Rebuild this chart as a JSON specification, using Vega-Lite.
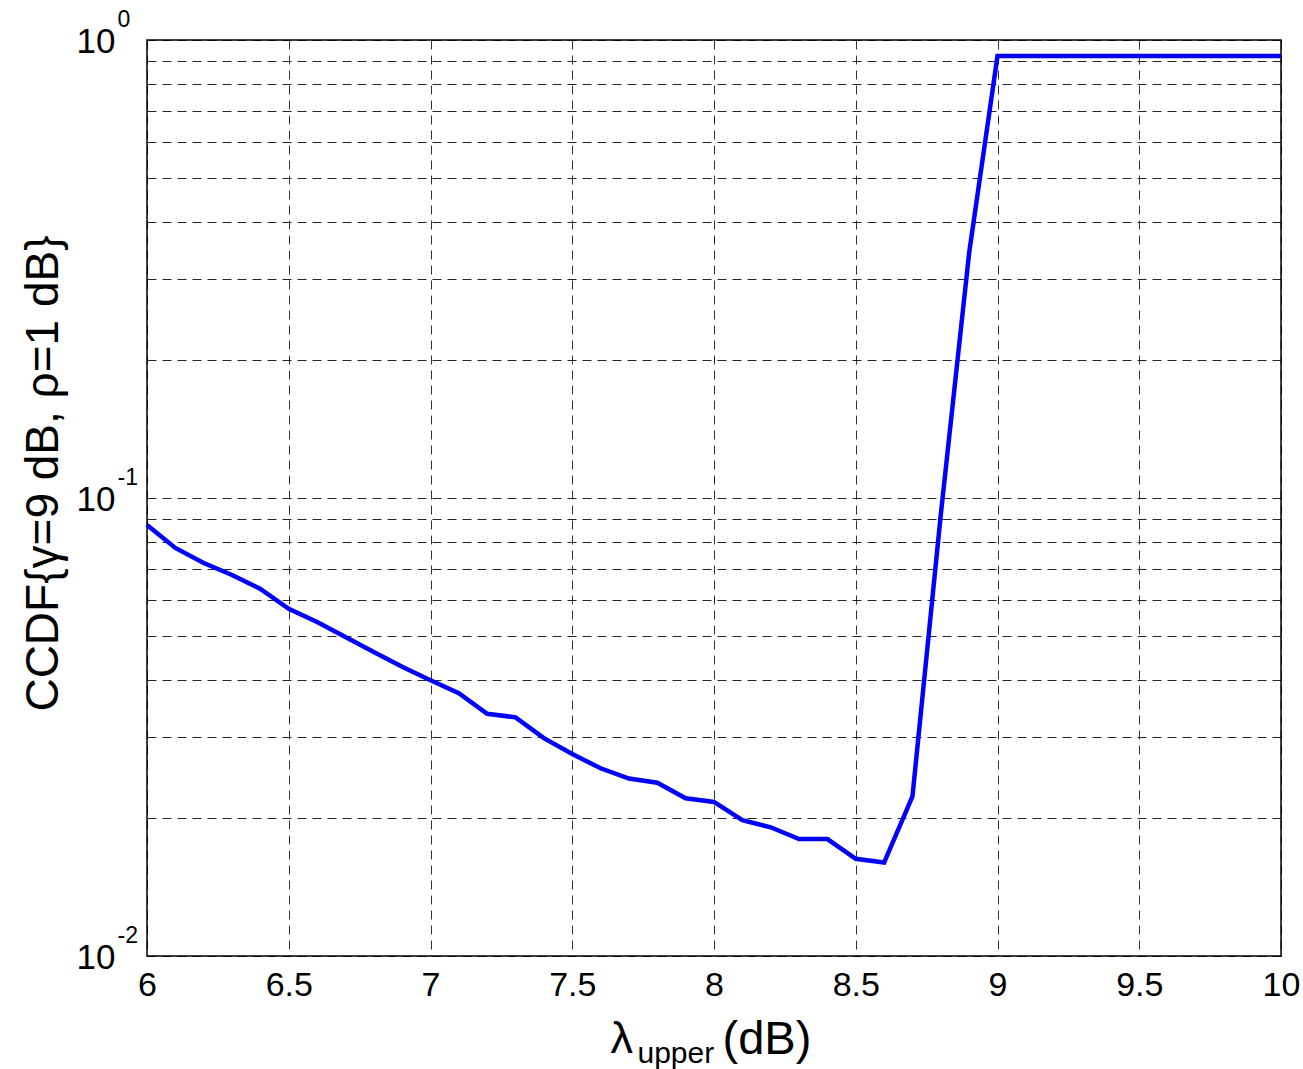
{
  "$schema": "https://vega.github.io/schema/vega-lite/v6.json",
  "width": 1134,
  "height": 916,
  "autosize": {"type": "none"},
  "padding": {"left": 147, "top": 40, "right": 22, "bottom": 113},
  "background": "white",
  "config": {
    "view": {"stroke": "#000", "strokeWidth": 1.5},
    "axis": {
      "labelFont": "Liberation Sans",
      "titleFont": "Liberation Sans",
      "labelColor": "#000",
      "titleColor": "#000",
      "titleFontWeight": "normal",
      "domain": false,
      "ticks": false,
      "tickSize": 0
    }
  },
  "data": {
    "values": [
      {"x": 6.0, "y": 0.0873},
      {"x": 6.1, "y": 0.0778},
      {"x": 6.2, "y": 0.0721},
      {"x": 6.3, "y": 0.0679},
      {"x": 6.4, "y": 0.0633},
      {"x": 6.5, "y": 0.0573},
      {"x": 6.6, "y": 0.0536},
      {"x": 6.7, "y": 0.0497},
      {"x": 6.8, "y": 0.0461},
      {"x": 6.9, "y": 0.0428},
      {"x": 7.0, "y": 0.0400},
      {"x": 7.1, "y": 0.0375},
      {"x": 7.2, "y": 0.0338},
      {"x": 7.3, "y": 0.0332},
      {"x": 7.4, "y": 0.0299},
      {"x": 7.5, "y": 0.0276},
      {"x": 7.6, "y": 0.0257},
      {"x": 7.7, "y": 0.0244},
      {"x": 7.8, "y": 0.0239},
      {"x": 7.9, "y": 0.0221},
      {"x": 8.0, "y": 0.0217},
      {"x": 8.1, "y": 0.0198},
      {"x": 8.2, "y": 0.0191},
      {"x": 8.3, "y": 0.0180},
      {"x": 8.4, "y": 0.0180},
      {"x": 8.5, "y": 0.0163},
      {"x": 8.6, "y": 0.0160},
      {"x": 8.7, "y": 0.0223},
      {"x": 8.8, "y": 0.092},
      {"x": 8.9, "y": 0.343},
      {"x": 9.0, "y": 0.923},
      {"x": 9.1, "y": 0.923},
      {"x": 9.2, "y": 0.923},
      {"x": 9.3, "y": 0.923},
      {"x": 9.4, "y": 0.923},
      {"x": 9.5, "y": 0.923},
      {"x": 9.6, "y": 0.923},
      {"x": 9.7, "y": 0.923},
      {"x": 9.8, "y": 0.923},
      {"x": 9.9, "y": 0.923},
      {"x": 10.0, "y": 0.923}
    ]
  },
  "layer": [
    {
      "mark": {"type": "line", "color": "#0000ff", "strokeWidth": 4.5},
      "encoding": {
        "x": {
          "field": "x", "type": "quantitative",
          "scale": {"domain": [6, 10], "nice": false, "zero": false},
          "axis": {
            "orient": "bottom",
            "values": [6, 6.5, 7, 7.5, 8, 8.5, 9, 9.5, 10],
            "format": "~g",
            "labelFontSize": 34,
            "labelBaseline": "alphabetic",
            "labelPadding": 39,
            "labelFlush": false,
            "labelOverlap": false,
            "grid": true,
            "gridColor": "#000",
            "gridOpacity": 0.8,
            "gridDash": [9, 6],
            "gridWidth": 1,
            "title": "λ",
            "titleFontSize": 45,
            "titleX": 463,
            "titleY": 96,
            "titleAlign": "left",
            "titleBaseline": "alphabetic"
          }
        },
        "y": {
          "field": "y", "type": "quantitative",
          "scale": {"type": "log", "domain": [0.01, 1], "nice": false},
          "axis": {
            "orient": "left",
            "values": [0.01, 0.02, 0.03, 0.04, 0.05, 0.06, 0.07, 0.08, 0.09, 0.1, 0.2, 0.3, 0.4, 0.5, 0.6, 0.7, 0.8, 0.9, 1],
            "labelExpr": "(datum.value == 0.01 || datum.value == 0.1 || datum.value == 1) ? '10' : ''",
            "labelFontSize": 35,
            "labelAlign": "right",
            "labelBaseline": "alphabetic",
            "labelOffset": 12,
            "labelPadding": 32,
            "labelOverlap": false,
            "labelFlush": false,
            "grid": true,
            "gridColor": "#000",
            "gridOpacity": 0.85,
            "gridDash": [9, 6],
            "gridWidth": 1,
            "title": "CCDF{γ=9 dB, ρ=1 dB}",
            "titleFontSize": 46,
            "titleAngle": -90,
            "titleX": -90,
            "titleY": 433,
            "titleAlign": "center",
            "titleBaseline": "alphabetic"
          }
        }
      }
    },
    {
      "mark": {"type": "line", "opacity": 0},
      "encoding": {
        "x": {
          "field": "x", "type": "quantitative",
          "scale": {"domain": [6, 10], "nice": false, "zero": false},
          "axis": {
            "orient": "bottom",
            "labels": false,
            "grid": false,
            "title": "upper",
            "titleFontSize": 30,
            "titleX": 490,
            "titleY": 106,
            "titleAlign": "left",
            "titleBaseline": "alphabetic"
          }
        },
        "y": {
          "field": "y", "type": "quantitative",
          "scale": {"type": "log", "domain": [0.01, 1], "nice": false},
          "axis": {
            "orient": "left",
            "values": [0.01, 0.1, 1],
            "labelExpr": "datum.value == 1 ? '0' : (datum.value == 0.1 ? '-1' : '-2')",
            "labelFontSize": 23,
            "labelAlign": "left",
            "labelBaseline": "alphabetic",
            "labelOffset": -14,
            "labelPadding": 30,
            "labelOverlap": false,
            "labelFlush": false,
            "grid": false,
            "title": null
          }
        }
      }
    },
    {
      "mark": {"type": "line", "opacity": 0},
      "encoding": {
        "x": {
          "field": "x", "type": "quantitative",
          "scale": {"domain": [6, 10], "nice": false, "zero": false},
          "axis": {
            "orient": "bottom",
            "labels": false,
            "grid": false,
            "title": "(dB)",
            "titleFontSize": 47,
            "titleX": 575,
            "titleY": 97,
            "titleAlign": "left",
            "titleBaseline": "alphabetic"
          }
        },
        "y": {
          "field": "y", "type": "quantitative",
          "scale": {"type": "log", "domain": [0.01, 1], "nice": false},
          "axis": null
        }
      }
    }
  ],
  "resolve": {"axis": {"x": "independent", "y": "independent"}}
}
